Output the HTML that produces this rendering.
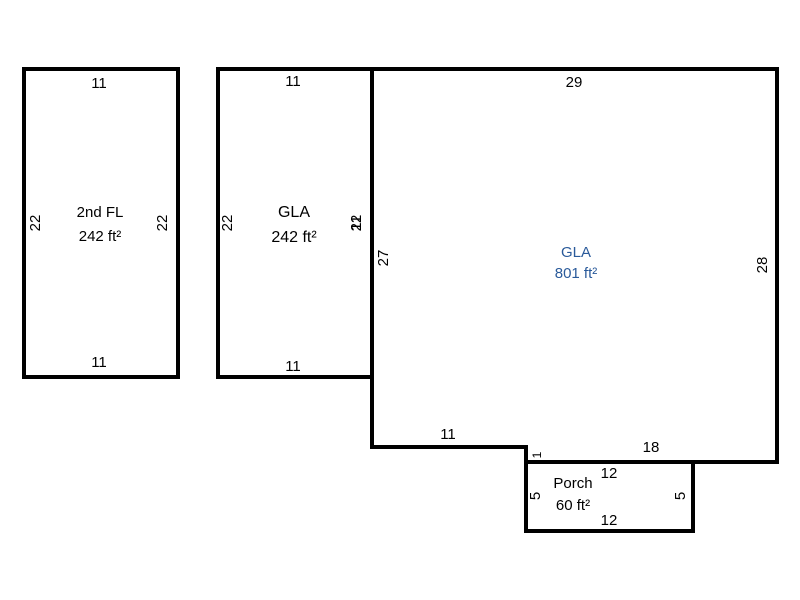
<!DOCTYPE html>
<html><head><style>body{margin:0;background:#fff}svg{display:block}</style></head><body>
<svg width="800" height="600" xmlns="http://www.w3.org/2000/svg" font-family="Liberation Sans, Arial, sans-serif" font-size="15">
<rect width="800" height="600" fill="#fff"/>
<g fill="none" stroke="#000" stroke-width="4">
<rect x="24" y="69" width="154" height="308"/>
<rect x="218" y="69" width="154" height="308"/>
<polygon points="372,69 777,69 777,462 526,462 526,447 372,447"/>
<rect x="526" y="462" width="167" height="69"/>
</g>
<g text-anchor="middle" fill="#000">
<text x="99" y="88">11</text>
<text x="99" y="367">11</text>
<text x="100" y="217">2nd FL</text>
<text x="100" y="241">242 ft²</text>
<text transform="translate(40,223) rotate(-90)">22</text>
<text transform="translate(167,223) rotate(-90)">22</text>
<text x="293" y="86">11</text>
<text x="293" y="371">11</text>
<text x="294" y="217" font-size="16">GLA</text>
<text x="294" y="242" font-size="16">242 ft²</text>
<text transform="translate(232,223) rotate(-90)">22</text>
<text transform="translate(361,223) rotate(-90)">22</text>
<text transform="translate(361,223) rotate(-90)">11</text>
<text x="574" y="87">29</text>
<text transform="translate(388,258) rotate(-90)">27</text>
<text transform="translate(767,265) rotate(-90)">28</text>
<text x="576" y="257" fill="#2a5a9a">GLA</text>
<text x="576" y="278" fill="#2a5a9a">801 ft²</text>
<text x="448" y="439">11</text>
<text x="651" y="452">18</text>
<text transform="translate(541,455) rotate(-90)" font-size="12">1</text>
<text x="609" y="478">12</text>
<text x="609" y="525">12</text>
<text x="573" y="488">Porch</text>
<text x="573" y="510">60 ft²</text>
<text transform="translate(540,496) rotate(-90)">5</text>
<text transform="translate(685,496) rotate(-90)">5</text>
</g>
</svg>
</body></html>
